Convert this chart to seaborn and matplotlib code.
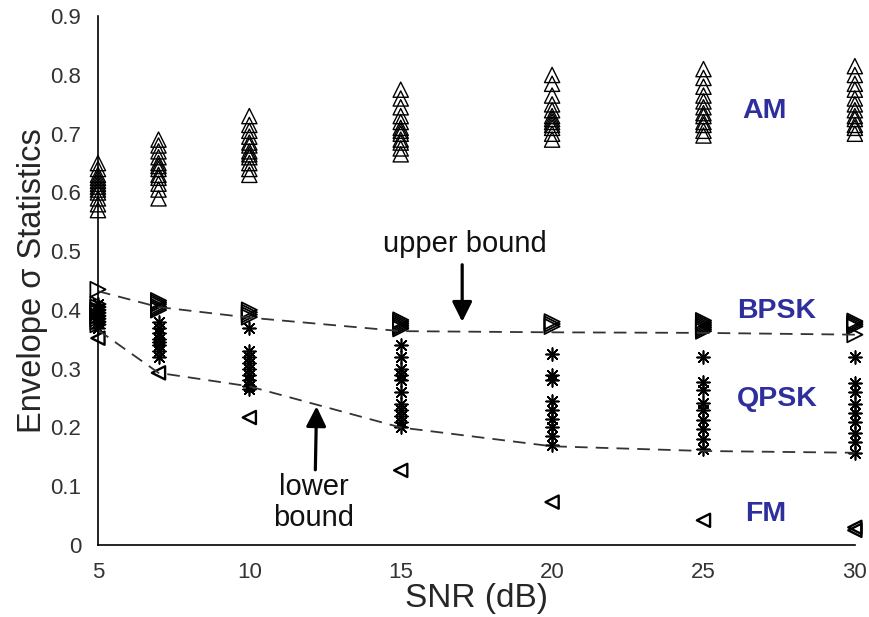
import numpy as np
import pandas as pd
import matplotlib
matplotlib.use("Agg")
import matplotlib.pyplot as plt
import seaborn as sns

# ---------------- data ----------------
snr = [5, 7, 10, 15, 20, 25, 30]

am_vals = {
    5: [0.57, 0.58, 0.59, 0.60, 0.605, 0.61, 0.615, 0.62, 0.625, 0.63, 0.64, 0.65],
    7: [0.59, 0.605, 0.615, 0.625, 0.63, 0.64, 0.645, 0.65, 0.66, 0.67, 0.68, 0.69],
    10: [0.63, 0.64, 0.65, 0.66, 0.665, 0.67, 0.68, 0.685, 0.695, 0.705, 0.715, 0.73],
    15: [0.665, 0.675, 0.685, 0.69, 0.70, 0.705, 0.71, 0.72, 0.73, 0.745, 0.76, 0.775],
    20: [0.69, 0.70, 0.71, 0.715, 0.72, 0.725, 0.73, 0.74, 0.75, 0.765, 0.785, 0.80],
    25: [0.697, 0.705, 0.715, 0.72, 0.73, 0.735, 0.745, 0.755, 0.765, 0.78, 0.795, 0.81],
    30: [0.70, 0.71, 0.715, 0.725, 0.73, 0.74, 0.75, 0.76, 0.775, 0.785, 0.80, 0.815],
}
bpsk_vals = {
    5: [0.375, 0.38, 0.385, 0.39, 0.395, 0.40, 0.405, 0.41, 0.435],
    7: [0.40, 0.403, 0.406, 0.41, 0.413, 0.416],
    10: [0.388, 0.392, 0.396, 0.40],
    15: [0.368, 0.371, 0.374, 0.377, 0.38, 0.383],
    20: [0.372, 0.376, 0.38],
    25: [0.364, 0.367, 0.37, 0.373, 0.376, 0.379, 0.382],
    30: [0.358, 0.372, 0.375, 0.378, 0.381],
}
qpsk_vals = {
    5: [0.37, 0.38, 0.39, 0.40, 0.41],
    7: [0.32, 0.33, 0.34, 0.345, 0.35, 0.36, 0.37, 0.38],
    10: [0.265, 0.27, 0.28, 0.29, 0.30, 0.31, 0.32, 0.33, 0.37],
    15: [0.20, 0.21, 0.22, 0.23, 0.24, 0.26, 0.28, 0.29, 0.30, 0.32, 0.34],
    20: [0.17, 0.185, 0.20, 0.215, 0.23, 0.245, 0.28, 0.29, 0.325],
    25: [0.163, 0.18, 0.197, 0.213, 0.23, 0.242, 0.264, 0.278, 0.32],
    30: [0.157, 0.175, 0.19, 0.21, 0.225, 0.24, 0.26, 0.275, 0.32],
}
fm_vals = {
    5: [0.352],
    7: [0.293],
    10: [0.217],
    15: [0.127],
    20: [0.073],
    25: [0.042],
    30: [0.025, 0.03],
}
upper_bound = [0.432, 0.405, 0.387, 0.364, 0.362, 0.361, 0.358]
lower_bound = [0.366, 0.293, 0.27, 0.20, 0.168, 0.16, 0.157]

class_labels = ["AM", "BPSK", "QPSK", "FM"]
class_label_pos = [(27.03, 0.738), (27.43, 0.399), (27.44, 0.249), (27.05, 0.053)]


def to_frame(d):
    rows = [(k, v) for k, vs in d.items() for v in vs]
    return pd.DataFrame(rows, columns=["snr", "value"])


# ---------------- figure ----------------
sns.set_theme(style="white")
plt.rcParams["font.family"] = ["Liberation Sans", "DejaVu Sans"]

fig = plt.figure(figsize=(8.7, 6.17), dpi=100)
ax = fig.add_axes([0.1126, 0.1167, 0.870, 0.857])

open_kw = dict(facecolor="none", edgecolor="black", linewidth=1.0, legend=False)
sns.scatterplot(data=to_frame(am_vals), x="snr", y="value", marker="^", s=120, ax=ax, **open_kw)
sns.scatterplot(data=to_frame(bpsk_vals), x="snr", y="value", marker=">", s=120, ax=ax,
                facecolor="none", edgecolor="black", linewidth=1.3, legend=False)
sns.scatterplot(data=to_frame(fm_vals), x="snr", y="value", marker="<", s=90, ax=ax,
                facecolor="none", edgecolor="black", linewidth=1.7, legend=False)
sns.scatterplot(data=to_frame(qpsk_vals), x="snr", y="value", marker=(8, 2, 0), s=85, ax=ax,
                color="black", linewidth=1.2, legend=False)

bounds = pd.DataFrame({"snr": snr, "upper": upper_bound, "lower": lower_bound})
for col in ["upper", "lower"]:
    sns.lineplot(data=bounds, x="snr", y=col, ax=ax, color="#333333", linewidth=1.3,
                 legend=False)
for line in ax.lines:
    line.set_dashes((7, 4.5))

# class labels
for lab, (lx, ly) in zip(class_labels, class_label_pos):
    ax.text(lx, ly, lab, color="#2e2f9c", fontsize=20.5, fontweight="bold",
            ha="center", va="center")

# annotations
arrow_kw = dict(arrowstyle="-|>", lw=2.3, color="black", mutation_scale=30,
                shrinkA=0, shrinkB=0)
ax.text(17.11, 0.513, "upper bound", ha="center", va="center", fontsize=21,
        color="#111111")
ax.annotate("", xy=(17.03, 0.380), xytext=(17.03, 0.477), arrowprops=arrow_kw)
ax.annotate("", xy=(12.22, 0.236), xytext=(12.18, 0.128), arrowprops=arrow_kw)
ax.text(12.13, 0.072, "lower\nbound", ha="center", va="center", fontsize=21,
        color="#111111", linespacing=1.15)

# axes
ax.set_xlim(5, 30)
ax.set_ylim(0, 0.9)
ax.set_xticks([5, 10, 15, 20, 25, 30])
ax.set_yticks(np.round(np.arange(0, 0.91, 0.1), 1))
ax.set_yticklabels(["0"] + [f"{v:.1f}" for v in np.arange(0.1, 0.91, 0.1)])
ax.tick_params(axis="both", direction="in", length=6, width=1.0, colors="black",
               labelsize=16, labelcolor="#333333", pad=12)
ax.set_xlabel("SNR (dB)", fontsize=24, labelpad=0)
ax.set_ylabel("Envelope \u03c3 Statistics", fontsize=23.5, labelpad=2)
for s in ["top", "right"]:
    ax.spines[s].set_visible(False)
for s in ["left", "bottom"]:
    ax.spines[s].set_color("black")
    ax.spines[s].set_linewidth(1.2)
ax.grid(False)
for coll in ax.collections:
    coll.set_clip_on(False)

fig.savefig("out.png", dpi=100)
